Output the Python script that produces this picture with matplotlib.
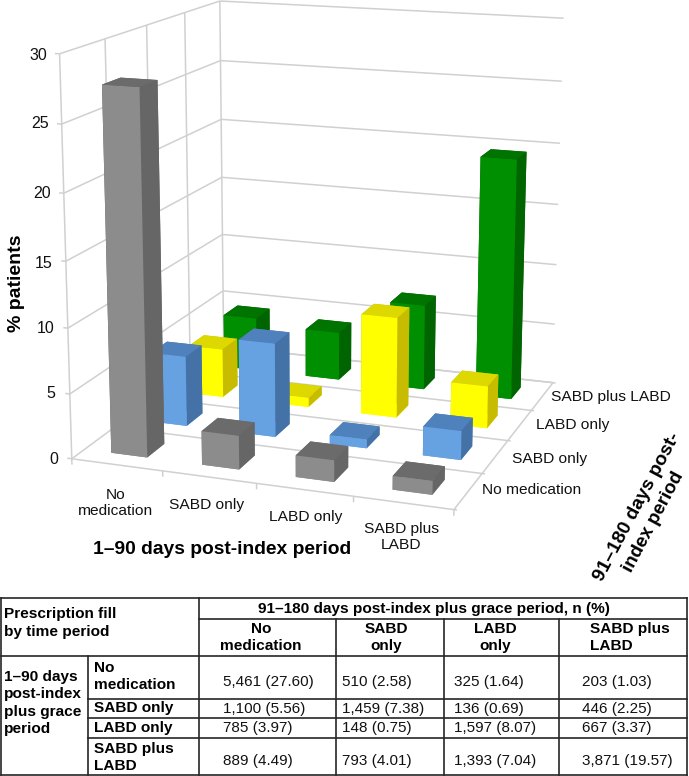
import numpy as np
import matplotlib
matplotlib.use("Agg")
import matplotlib.pyplot as plt
from mpl_toolkits.mplot3d import Axes3D  # noqa: F401
from mpl_toolkits.mplot3d.art3d import Line3DCollection

plt.rcParams['font.family'] = ['Liberation Sans', 'DejaVu Sans']

W, H = 689, 776

# ---- data (from the table in the figure) ----
row_names = ["No medication", "SABD only", "LABD only", "SABD plus LABD"]
x_labels = ["No\nmedication", "SABD only", "LABD only", "SABD plus\nLABD"]
no_medication = [27.60, 2.58, 1.64, 1.03]
sabd_only = [5.56, 7.38, 0.69, 2.25]
labd_only = [3.97, 0.75, 8.07, 3.37]
sabd_plus_labd = [4.49, 4.01, 7.04, 19.57]
z_ticks = [0, 5, 10, 15, 20, 25, 30]

table_counts = [
    ["5,461 (27.60)", "510 (2.58)", "325 (1.64)", "203 (1.03)"],
    ["1,100 (5.56)", "1,459 (7.38)", "136 (0.69)", "446 (2.25)"],
    ["785 (3.97)", "148 (0.75)", "1,597 (8.07)", "667 (3.37)"],
    ["889 (4.49)", "793 (4.01)", "1,393 (7.04)", "3,871 (19.57)"],
]
table_rows = ["No\nmedication", "SABD only", "LABD only", "SABD plus\nLABD"]
table_cols = ["No\nmedication", "SABD\nonly", "LABD\nonly", "SABD plus\nLABD"]

series = [no_medication, sabd_only, labd_only, sabd_plus_labd]
palette = [
    dict(front="#8c8c8c", top="#6b6b6b", side="#666666"),
    dict(front="#66a1e2", top="#4f81bd", side="#4472a6"),
    dict(front="#ffff00", top="#dcd800", side="#c8bc00"),
    dict(front="#008f00", top="#007400", side="#006400"),
]

# ---- camera calibrated against the box corners of the picture ----
calib = [
    (0, 0, 0, 73.3, 457.5), (4, 0, 0, 453, 509), (0, 4, 0, 224, 348), (4, 4, 0, 553, 383),
    (0, 0, 30, 60, 54), (0, 4, 30, 220, 0), (4, 4, 30, 564, 18),
    (0, 0, 25, 62, 125), (0, 0, 20, 63, 193), (0, 0, 15, 65, 260), (0, 0, 10, 67, 328), (0, 0, 5, 69, 393),
    (0, 4, 25, 220, 61), (0, 4, 20, 221, 119), (0, 4, 15, 222, 177), (0, 4, 5, 223, 290),
    (4, 4, 25, 562, 81), (4, 4, 20, 560, 143), (4, 4, 15, 558, 205), (4, 4, 10, 556, 265), (4, 4, 5, 554, 324),
    (1, 0, 0, 163, 472), (2, 0, 0, 257, 485), (3, 0, 0, 353, 497),
    (4, 1, 0, 483, 473), (4, 2, 0, 510, 440), (4, 3, 0, 530, 410),
    (0, 1, 30, 105, 39), (0, 2, 30, 147, 26), (0, 3, 30, 185, 13),
]
c = np.array(calib, float)
Tw = np.diag([1 / 4, 1 / 4, 1 / 30, 1.0])
Ti = np.diag([1 / 500, 1 / 500, 1.0])
rows = []
for X, Y, Z, u, v in c:
    Xh = Tw @ np.array([X, Y, Z, 1.0])
    uh = Ti @ np.array([u, v, 1.0])
    rows.append(np.r_[Xh, np.zeros(4), -uh[0] * Xh])
    rows.append(np.r_[np.zeros(4), Xh, -uh[1] * Xh])
P = np.linalg.svd(np.array(rows))[2][-1].reshape(3, 4)
P = np.linalg.inv(Ti) @ P @ Tw
if P[2] @ np.array([2, 2, 15, 1.0]) < 0:
    P = -P
P = P / (P[2] @ np.array([2, 2, 15, 1.0]))

fig = plt.figure(figsize=(W / 100, H / 100), dpi=100)
ax = fig.add_axes([0, 0, 1, 1], projection="3d")
ax.set_axis_off()
ax.patch.set_alpha(0)
ax.computed_zorder = False


def get_proj():
    A = ax.transData.inverted().get_matrix()
    r1, r2, w = P
    ydisp = H * w - r2
    n1 = A[0, 0] * r1 + A[0, 1] * ydisp + A[0, 2] * w
    n2 = A[1, 0] * r1 + A[1, 1] * ydisp + A[1, 2] * w
    depth = w - np.array([0, 0, 0, 2.0])
    return np.array([n1, n2, depth, w])


ax.get_proj = get_proj

# ---- grid ----
gc = "#d0d0d0"
glw = 1.1
segs = []
for z in z_ticks:
    segs.append([(-0.05, 0, z), (0, 0, z)])
    segs.append([(0, 0, z), (0, 4, z)])
    segs.append([(0, 4, z), (4, 4, z)])
for y in range(5):
    segs.append([(0, y, 0), (0, y, 30)])
    segs.append([(0, y, 0), (4.03, y, 0)])
segs.append([(4, 0, 0), (4, 4, 0)])
for x in range(5):
    segs.append([(x, 0, 0), (x, 0, -0.45)])
grid = Line3DCollection(segs, colors=gc, linewidths=glw, zorder=1)
ax.add_collection3d(grid)
grid.set_clip_on(False)

# ---- bars ----
bw, bd = 0.40, 0.42
zo = 10
for j in range(3, -1, -1):
    for i in range(3, -1, -1):
        p = palette[j]
        cols = [p["front"], p["top"], p["front"], p["side"], p["side"], p["side"]]
        bar = ax.bar3d([i + 0.5 - bw / 2], [j + 0.5 - bd / 2], [0], [bw], [bd], [series[j][i]],
                       color=cols, shade=False, edgecolor="none", zorder=zo)
        bar.set_clip_on(False)
        zo += 1


def T(px, py, s, **kw):
    return fig.text(px / W, 1 - py / H, s, **kw)


# ---- axis labels ----
tick_fs = 11.15
z_label_right = [58, 55, 54, 53, 51, 49, 47]
z_label_y = [459, 393, 328, 263, 193, 124, 56]
for z, xr, yy in zip(z_ticks, z_label_right, z_label_y):
    T(xr, yy, str(z), ha="right", va="center", fontsize=11.5, color="#111111")
for s, (xx, yy) in zip(x_labels, [(116, 503), (207, 505), (306, 517), (401, 537)]):
    T(xx, yy, s, ha="center", va="center", fontsize=tick_fs, color="#111111", linespacing=1.22)
for s, (xx, yy) in zip(row_names, [(482, 490), (512, 459), (536, 425), (551, 397)]):
    T(xx, yy, s, ha="left", va="center", fontsize=tick_fs, color="#111111")
T(17, 283, "% patients", rotation=90, ha="center", va="center", fontsize=14, fontweight="bold")
T(222, 549, "1–90 days post-index period", ha="center", va="center", fontsize=13.9, fontweight="bold")
T(637, 507, "91–180 days post-", rotation=62, ha="center", va="center",
  rotation_mode="anchor", fontsize=13.9, fontweight="bold")
T(653.5, 522, "index period", rotation=62, ha="center", va="center",
  rotation_mode="anchor", fontsize=13.5, fontweight="bold")

# ---- table ----
tc = "#262626"
tlw = 1.2
xs = [1, 88, 199, 336, 444, 559, 687]
yT, yS, yH, yA, yB, yC, yE = 598, 619, 656, 699, 718, 738, 775


def L(x0, y0, x1, y1):
    fig.add_artist(plt.Line2D([x0 / W, x1 / W], [1 - y0 / H, 1 - y1 / H], color=tc, lw=tlw))


L(xs[0], yT, xs[-1], yT)
L(xs[0], yE, xs[-1], yE)
L(xs[0], yT, xs[0], yE)
L(xs[-1], yT, xs[-1], yE)
L(xs[2], yT, xs[2], yE)
L(xs[2], yS, xs[-1], yS)
L(xs[0], yH, xs[-1], yH)
L(xs[1], yA, xs[-1], yA)
L(xs[1], yB, xs[-1], yB)
L(xs[1], yC, xs[-1], yC)
L(xs[1], yH, xs[1], yE)
for xv in xs[3:6]:
    L(xv, yS, xv, yE)

tfs = 11.1
T(4, 623, "Prescription fill\nby time period", ha="left", va="center", fontsize=tfs, fontweight="bold", linespacing=1.35)
T(434, 609, "91–180 days post-index plus grace period, n (%)", ha="center", va="center", fontsize=tfs, fontweight="bold")
for s, xx, al in zip(table_cols, [261, 386, 495, 590], ["center", "center", "center", "left"]):
    T(xx, 637.5, s, ha=al, va="center", fontsize=tfs, fontweight="bold", linespacing=1.3)
T(4, 703, "1–90 days\npost-index\nplus grace\nperiod", ha="left", va="center", fontsize=tfs, fontweight="bold", linespacing=1.32)
for s, yy in zip(table_rows, [676.5, 708, 728, 757.5]):
    T(94, yy, s, ha="left", va="center", fontsize=tfs, fontweight="bold", linespacing=1.25)
cell_x = [223, 342, 454, 582]
cell_y = [682, 708.5, 728, 761]
for r, yy in zip(table_counts, cell_y):
    for s, xx in zip(r, cell_x):
        T(xx, yy, s, ha="left", va="center", fontsize=11, color="#111111")

fig.savefig("out.png", dpi=100, facecolor="white")
